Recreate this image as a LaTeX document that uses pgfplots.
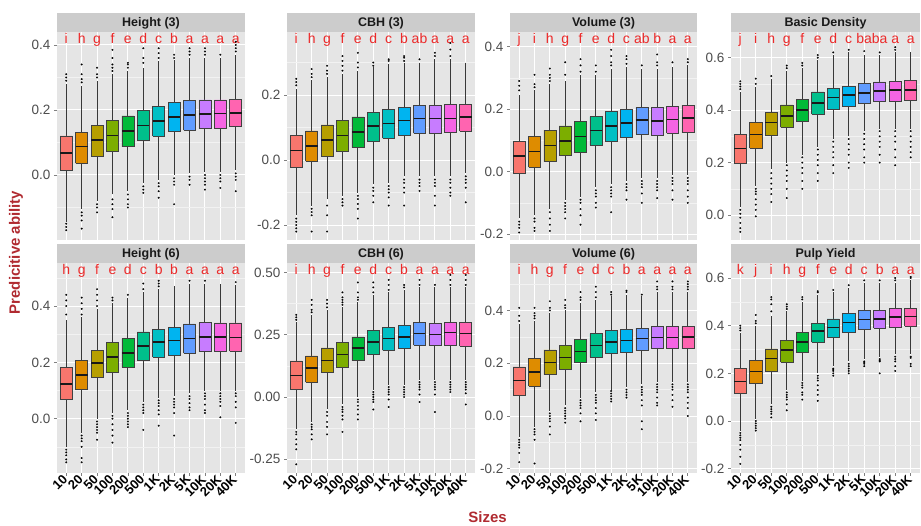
\documentclass[border=0pt]{standalone}
\usepackage{fontspec}
\setmainfont{Liberation Sans}
\usepackage{pgfplots}
\pgfplotsset{compat=1.18}
\definecolor{c1}{HTML}{F8766D}
\definecolor{c2}{HTML}{DE8C00}
\definecolor{c3}{HTML}{B79F00}
\definecolor{c4}{HTML}{7CAE00}
\definecolor{c5}{HTML}{00BA38}
\definecolor{c6}{HTML}{00C08B}
\definecolor{c7}{HTML}{00BFC4}
\definecolor{c8}{HTML}{00B4F0}
\definecolor{c9}{HTML}{619CFF}
\definecolor{c10}{HTML}{C77CFF}
\definecolor{c11}{HTML}{F564E3}
\definecolor{c12}{HTML}{FF64B0}
\definecolor{bg}{HTML}{E5E5E5}
\definecolor{stripgray}{HTML}{CCCCCC}
\definecolor{letred}{HTML}{EC2A2A}
\definecolor{titred}{HTML}{B02A30}
\definecolor{ticklab}{HTML}{4D4D4D}

% box: pos, lower whisker, lower quartile, median, upper quartile, upper whisker, outliers
\newcommand{\B}[7]{%
\addplot[draw=black!78, line width=0.9pt] coordinates {(#1,#2) (#1,#3)};
\addplot[draw=black!78, line width=0.9pt] coordinates {(#1,#5) (#1,#6)};
\addplot[fill=c#1, draw=black!75, line width=0.55pt] table[row sep=\\, x expr=\thisrow{x}+#1] {x y\\ -0.39 #3\\ 0.39 #3\\ 0.39 #5\\ -0.39 #5\\ -0.39 #3\\};
\addplot[draw=black!90, line width=1.5pt] table[row sep=\\, x expr=\thisrow{x}+#1] {x y\\ -0.385 #4\\ 0.385 #4\\};
\addplot[only marks, mark=*, mark size=0.85pt, mark options={fill=black, draw=black, line width=0.2pt}] table[row sep=\\, x expr=#1, y index=0] {d\\ #7};}
\newcommand{\Lt}[2]{\node[font=\fontsize{14}{14}\selectfont, text=letred, anchor=base, inner sep=0pt, yshift=-11.8pt] at ({axis cs:#1,0}|-{rel axis cs:0,1}) {#2};}
\newcommand{\Strip}[1]{\fill[stripgray] (rel axis cs:0,1) rectangle ([yshift=19pt]rel axis cs:1,1);
\node[font=\bfseries\fontsize{12.5}{13}\selectfont, text=black!90, anchor=base, inner sep=0pt] at ([yshift=5.2pt]rel axis cs:0.5,1) {#1};}

\pgfplotsset{
 panel/.style={
  scale only axis, xmin=0.4, xmax=12.6, xtick={1,...,12},
  axis background/.style={fill=bg},
  axis line style={draw=none},
  xmajorgrids, ymajorgrids, yminorgrids,
  major grid style={white, line width=1pt},
  minor grid style={gray!10, line width=0.55pt},
  tick align=outside, major tick length=3pt, minor tick length=0pt,
  tick style={black!50, line width=0.7pt},
  xtick pos=left, ytick pos=left,
  yticklabel style={font=\fontsize{13.5}{14}\selectfont, text=ticklab},
  clip=false,
 },
 toprow/.style={height=208pt, xticklabels={}, xtick style={draw=none}},
 botrow/.style={height=210pt, xticklabels={10,20,50,100,200,500,1K,2K,5K,10K,20K,40K},
   xticklabel style={rotate=45, anchor=east, font=\bfseries\fontsize{13}{13}\selectfont, text=black, inner sep=1.5pt}},
}

\begin{document}
\begin{tikzpicture}
\path[use as bounding box] (0,0) rectangle (921pt,526pt);

%%%%% Height (3)
\begin{axis}[panel, toprow, at={(57pt,286pt)}, anchor=south west, width=188pt,
 ymin=-0.2, ymax=0.44, ytick={0,0.2,0.4}, yticklabels={0.0,0.2,0.4}, minor ytick={-0.1,0.1,0.3}]
\Strip{Height (3)}
\B{1}{-0.145}{0.013}{0.067}{0.12}{0.28}{0.29\\0.30\\0.31\\-0.15\\-0.16\\-0.17\\}
\B{2}{-0.105}{0.036}{0.087}{0.132}{0.275}{0.285\\0.295\\0.31\\0.34\\-0.115\\-0.125\\-0.14\\-0.165\\}
\B{3}{-0.08}{0.059}{0.108}{0.152}{0.29}{0.30\\0.31\\0.33\\-0.09\\-0.10\\-0.115\\}
\B{4}{-0.06}{0.074}{0.121}{0.169}{0.31}{0.32\\0.33\\0.34\\0.36\\0.385\\-0.075\\-0.09\\-0.105\\-0.13\\}
\B{5}{-0.05}{0.087}{0.136}{0.182}{0.32}{0.33\\0.34\\0.345\\-0.06\\-0.075\\-0.09\\-0.10\\}
\B{6}{-0.025}{0.108}{0.152}{0.198}{0.33}{0.345\\0.36\\0.39\\-0.035\\-0.045\\-0.055\\}
\B{7}{-0.015}{0.12}{0.166}{0.211}{0.35}{0.36\\0.375\\0.39\\-0.025\\-0.035\\-0.05\\-0.07\\}
\B{8}{0.0}{0.133}{0.179}{0.223}{0.355}{0.36\\0.37\\-0.01\\-0.02\\-0.03\\-0.09\\}
\B{9}{0.005}{0.138}{0.185}{0.229}{0.36}{0.37\\0.38\\0.39\\-0.005\\-0.015\\-0.03\\}
\B{10}{0.01}{0.144}{0.188}{0.231}{0.36}{0.37\\0.38\\0.39\\0.0\\-0.01\\-0.02\\-0.03\\-0.045\\}
\B{11}{0.01}{0.144}{0.189}{0.231}{0.36}{0.37\\0.0\\-0.01\\-0.02\\-0.04\\}
\B{12}{0.015}{0.149}{0.19}{0.233}{0.37}{0.38\\0.39\\0.40\\0.41\\0.005\\-0.005\\-0.015\\-0.05\\}
\Lt{1}{i}\Lt{2}{h}\Lt{3}{g}\Lt{4}{f}\Lt{5}{e}\Lt{6}{d}\Lt{7}{c}\Lt{8}{b}\Lt{9}{a}\Lt{10}{a}\Lt{11}{a}\Lt{12}{a}
\end{axis}

%%%%% CBH (3)
\begin{axis}[panel, toprow, at={(287pt,286pt)}, anchor=south west, width=188pt,
 ymin=-0.246, ymax=0.394, ytick={-0.2,0,0.2}, yticklabels={-0.2,0.0,0.2}, minor ytick={-0.1,0.1,0.3}]
\Strip{CBH (3)}
\B{1}{-0.17}{-0.021}{0.029}{0.077}{0.22}{0.23\\0.24\\0.25\\-0.18\\-0.19\\-0.20\\-0.21\\-0.22\\}
\B{2}{-0.14}{-0.003}{0.043}{0.09}{0.245}{0.255\\0.265\\0.28\\-0.15\\-0.16\\-0.17\\-0.22\\}
\B{3}{-0.12}{0.012}{0.062}{0.108}{0.255}{0.265\\0.275\\0.29\\-0.14\\-0.17\\-0.22\\}
\B{4}{-0.11}{0.026}{0.075}{0.123}{0.265}{0.275\\0.29\\0.305\\0.32\\-0.12\\-0.13\\-0.14\\}
\B{5}{-0.10}{0.039}{0.087}{0.133}{0.275}{0.285\\0.30\\0.33\\-0.11\\-0.12\\-0.135\\-0.15\\-0.18\\}
\B{6}{-0.075}{0.058}{0.105}{0.147}{0.285}{0.29\\0.30\\-0.085\\-0.095\\-0.11\\-0.13\\}
\B{7}{-0.07}{0.067}{0.113}{0.157}{0.295}{0.305\\0.31\\-0.08\\-0.09\\-0.10\\-0.115\\-0.14\\}
\B{8}{-0.05}{0.075}{0.121}{0.162}{0.30}{0.305\\0.315\\0.32\\-0.06\\-0.07\\-0.085\\-0.10\\-0.14\\}
\B{9}{-0.05}{0.082}{0.128}{0.167}{0.30}{0.31\\-0.06\\-0.07\\-0.08\\-0.095\\}
\B{10}{-0.05}{0.082}{0.128}{0.169}{0.31}{0.32\\0.33\\-0.06\\-0.07\\-0.08\\-0.11\\-0.14\\}
\B{11}{-0.05}{0.084}{0.128}{0.172}{0.31}{0.32\\0.34\\0.36\\-0.06\\-0.07\\-0.085\\-0.10\\-0.11\\}
\B{12}{-0.04}{0.089}{0.133}{0.172}{0.30}{-0.05\\-0.06\\-0.07\\-0.085\\-0.13\\}
\Lt{1}{i}\Lt{2}{h}\Lt{3}{g}\Lt{4}{f}\Lt{5}{e}\Lt{6}{d}\Lt{7}{c}\Lt{8}{b}\Lt{9}{ab}\Lt{10}{a}\Lt{11}{a}\Lt{12}{a}
\end{axis}

%%%%% Volume (3)
\begin{axis}[panel, toprow, at={(510pt,286pt)}, anchor=south west, width=187pt,
 ymin=-0.219, ymax=0.447, ytick={-0.2,0,0.2,0.4}, yticklabels={-0.2,0.0,0.2,0.4}, minor ytick={-0.1,0.1,0.3}]
\Strip{Volume (3)}
\B{1}{-0.15}{-0.005}{0.05}{0.096}{0.245}{0.26\\0.275\\0.29\\-0.16\\-0.17\\-0.18\\-0.195\\}
\B{2}{-0.14}{0.014}{0.064}{0.112}{0.26}{0.27\\0.28\\0.31\\-0.15\\-0.16\\-0.18\\-0.19\\}
\B{3}{-0.12}{0.032}{0.083}{0.133}{0.28}{0.29\\0.30\\0.31\\0.33\\-0.13\\-0.15\\-0.17\\-0.19\\}
\B{4}{-0.09}{0.051}{0.098}{0.146}{0.29}{0.31\\0.35\\-0.10\\-0.11\\-0.12\\-0.13\\-0.15\\}
\B{5}{-0.08}{0.061}{0.112}{0.16}{0.31}{0.32\\0.34\\0.36\\-0.09\\-0.10\\-0.12\\-0.14\\-0.17\\}
\B{6}{-0.05}{0.085}{0.131}{0.176}{0.31}{0.32\\0.34\\-0.06\\-0.07\\-0.08\\-0.10\\-0.115\\}
\B{7}{-0.04}{0.098}{0.146}{0.192}{0.33}{0.34\\0.35\\0.37\\0.39\\-0.05\\-0.06\\-0.07\\-0.08\\-0.13\\}
\B{8}{-0.03}{0.109}{0.155}{0.20}{0.335}{0.345\\0.36\\0.37\\-0.04\\-0.05\\-0.06\\-0.09\\}
\B{9}{-0.02}{0.121}{0.165}{0.206}{0.33}{0.34\\-0.03\\-0.04\\-0.05\\-0.07\\-0.10\\}
\B{10}{-0.02}{0.115}{0.162}{0.206}{0.33}{0.34\\0.35\\0.375\\-0.03\\-0.04\\-0.05\\-0.06\\-0.085\\}
\B{11}{-0.01}{0.123}{0.167}{0.21}{0.335}{0.35\\-0.02\\-0.03\\-0.04\\-0.06\\-0.09\\}
\B{12}{-0.01}{0.125}{0.171}{0.213}{0.34}{0.35\\0.36\\-0.02\\-0.03\\-0.04\\-0.06\\-0.08\\-0.10\\}
\Lt{1}{j}\Lt{2}{i}\Lt{3}{h}\Lt{4}{g}\Lt{5}{f}\Lt{6}{e}\Lt{7}{d}\Lt{8}{c}\Lt{9}{ab}\Lt{10}{b}\Lt{11}{a}\Lt{12}{a}
\end{axis}

%%%%% Basic Density
\begin{axis}[panel, toprow, at={(731pt,286pt)}, anchor=south west, width=189pt,
 ymin=-0.095, ymax=0.698, ytick={0,0.2,0.4,0.6}, yticklabels={0.0,0.2,0.4,0.6}, minor ytick={0.1,0.3,0.5}]
\Strip{Basic Density}
\B{1}{0.03}{0.197}{0.254}{0.309}{0.47}{0.48\\0.49\\0.50\\0.51\\0.02\\0.005\\-0.01\\-0.03\\-0.05\\-0.064\\}
\B{2}{0.11}{0.254}{0.308}{0.352}{0.49}{0.50\\0.52\\0.10\\0.09\\0.08\\0.06\\0.04\\0.02\\-0.005\\}
\B{3}{0.175}{0.305}{0.353}{0.392}{0.52}{0.53\\0.16\\0.14\\0.12\\0.10\\0.08\\0.05\\}
\B{4}{0.20}{0.334}{0.378}{0.42}{0.55}{0.56\\0.57\\0.19\\0.17\\0.15\\0.13\\0.10\\0.065\\}
\B{5}{0.23}{0.356}{0.40}{0.441}{0.56}{0.57\\0.58\\0.22\\0.20\\0.18\\0.16\\0.13\\0.10\\}
\B{6}{0.26}{0.385}{0.428}{0.47}{0.59}{0.60\\0.61\\0.25\\0.23\\0.21\\0.19\\0.16\\0.13\\}
\B{7}{0.29}{0.403}{0.449}{0.483}{0.61}{0.62\\0.28\\0.26\\0.24\\0.22\\0.19\\0.16\\}
\B{8}{0.30}{0.413}{0.458}{0.492}{0.62}{0.63\\0.29\\0.27\\0.25\\0.23\\0.20\\0.18\\}
\B{9}{0.32}{0.426}{0.466}{0.502}{0.61}{0.625\\0.31\\0.29\\0.27\\0.25\\0.22\\0.20\\}
\B{10}{0.33}{0.432}{0.473}{0.508}{0.61}{0.62\\0.32\\0.30\\0.28\\0.26\\0.23\\0.20\\}
\B{11}{0.33}{0.435}{0.477}{0.511}{0.62}{0.63\\0.64\\0.32\\0.30\\0.28\\0.25\\0.22\\0.19\\}
\B{12}{0.33}{0.436}{0.477}{0.512}{0.62}{0.32\\0.30\\0.28\\0.26\\0.24\\0.22\\}
\Lt{1}{j}\Lt{2}{i}\Lt{3}{h}\Lt{4}{g}\Lt{5}{f}\Lt{6}{e}\Lt{7}{d}\Lt{8}{c}\Lt{9}{ba}\Lt{10}{ba}\Lt{11}{a}\Lt{12}{a}
\end{axis}

%%%%% Height (6)
\begin{axis}[panel, botrow, at={(57pt,53pt)}, anchor=south west, width=188pt,
 ymin=-0.193, ymax=0.553, ytick={0,0.2,0.4}, yticklabels={0.0,0.2,0.4}, minor ytick={-0.1,0.1,0.3,0.5}]
\Strip{Height (6)}
\B{1}{-0.10}{0.069}{0.124}{0.183}{0.35}{0.37\\0.40\\0.42\\0.44\\-0.11\\-0.12\\-0.13\\-0.145\\-0.155\\}
\B{2}{-0.05}{0.103}{0.156}{0.207}{0.36}{0.37\\0.39\\0.41\\0.43\\-0.06\\-0.07\\-0.08\\-0.10\\-0.14\\-0.155\\}
\B{3}{0.0}{0.146}{0.198}{0.243}{0.39}{0.40\\0.42\\0.44\\0.46\\-0.01\\-0.02\\-0.03\\-0.04\\-0.05\\-0.075\\}
\B{4}{0.02}{0.166}{0.219}{0.27}{0.41}{0.42\\0.43\\0.01\\0.0\\-0.02\\-0.04\\-0.06\\-0.085\\}
\B{5}{0.03}{0.183}{0.233}{0.284}{0.43}{0.44\\0.02\\0.01\\0.0\\-0.01\\-0.02\\-0.03\\}
\B{6}{0.06}{0.207}{0.258}{0.308}{0.45}{0.46\\0.48\\0.05\\0.04\\0.03\\0.02\\-0.04\\}
\B{7}{0.075}{0.219}{0.272}{0.317}{0.46}{0.47\\0.48\\0.49\\0.065\\0.055\\0.045\\0.03\\0.015\\-0.025\\}
\B{8}{0.08}{0.225}{0.277}{0.325}{0.47}{0.07\\0.06\\0.05\\0.04\\0.02\\-0.06\\}
\B{9}{0.09}{0.233}{0.284}{0.337}{0.48}{0.49\\0.08\\0.07\\0.055\\0.04\\0.03\\}
\B{10}{0.10}{0.239}{0.29}{0.341}{0.48}{0.49\\0.09\\0.08\\0.07\\0.05\\0.03\\0.02\\}
\B{11}{0.10}{0.239}{0.29}{0.34}{0.48}{0.09\\0.08\\0.07\\0.06\\0.045\\0.005\\}
\B{12}{0.10}{0.239}{0.288}{0.34}{0.475}{0.485\\0.09\\0.08\\0.06\\0.04\\-0.015\\}
\Lt{1}{h}\Lt{2}{g}\Lt{3}{f}\Lt{4}{e}\Lt{5}{d}\Lt{6}{c}\Lt{7}{b}\Lt{8}{b}\Lt{9}{a}\Lt{10}{a}\Lt{11}{a}\Lt{12}{a}
\end{axis}

%%%%% CBH (6)
\begin{axis}[panel, botrow, at={(287pt,53pt)}, anchor=south west, width=188pt,
 ymin=-0.305, ymax=0.538, ytick={-0.25,0,0.25,0.5}, yticklabels={-0.25,0.00,0.25,0.50}, minor ytick={-0.125,0.125,0.375}]
\Strip{CBH (6)}
\B{1}{-0.13}{0.033}{0.087}{0.145}{0.30}{0.31\\0.32\\0.33\\-0.14\\-0.15\\-0.17\\-0.19\\-0.21\\-0.27\\}
\B{2}{-0.10}{0.06}{0.117}{0.165}{0.33}{0.34\\0.35\\0.37\\0.39\\-0.11\\-0.12\\-0.13\\-0.15\\-0.17\\}
\B{3}{-0.05}{0.10}{0.147}{0.197}{0.35}{0.36\\0.375\\0.39\\-0.06\\-0.075\\-0.10\\-0.12\\-0.15\\}
\B{4}{-0.03}{0.121}{0.17}{0.218}{0.36}{0.37\\0.38\\0.39\\0.40\\0.42\\-0.04\\-0.05\\-0.06\\-0.075\\-0.09\\-0.14\\}
\B{5}{0.0}{0.147}{0.197}{0.241}{0.38}{0.39\\0.40\\0.42\\0.46\\-0.01\\-0.02\\-0.035\\-0.05\\-0.07\\-0.09\\}
\B{6}{0.03}{0.17}{0.221}{0.268}{0.41}{0.42\\0.44\\0.46\\0.02\\0.01\\0.0\\-0.01\\-0.02\\-0.05\\}
\B{7}{0.05}{0.187}{0.234}{0.279}{0.42}{0.43\\0.45\\0.47\\0.04\\0.03\\0.02\\0.01\\-0.01\\-0.04\\}
\B{8}{0.05}{0.194}{0.241}{0.288}{0.43}{0.44\\0.45\\0.04\\0.03\\0.02\\0.01\\0.0\\}
\B{9}{0.07}{0.208}{0.254}{0.299}{0.44}{0.45\\0.47\\0.06\\0.05\\0.04\\0.03\\0.01\\-0.02\\}
\B{10}{0.07}{0.208}{0.25}{0.297}{0.44}{0.45\\0.06\\0.05\\0.04\\0.03\\0.01\\-0.06\\}
\B{11}{0.07}{0.208}{0.258}{0.301}{0.44}{0.45\\0.47\\0.49\\0.06\\0.05\\0.04\\0.03\\0.02\\}
\B{12}{0.07}{0.205}{0.254}{0.299}{0.44}{0.45\\0.47\\0.49\\0.06\\0.05\\0.04\\0.03\\0.015\\-0.03\\}
\Lt{1}{i}\Lt{2}{h}\Lt{3}{g}\Lt{4}{f}\Lt{5}{e}\Lt{6}{d}\Lt{7}{c}\Lt{8}{b}\Lt{9}{a}\Lt{10}{a}\Lt{11}{a}\Lt{12}{a}
\end{axis}

%%%%% Volume (6)
\begin{axis}[panel, botrow, at={(510pt,53pt)}, anchor=south west, width=187pt,
 ymin=-0.216, ymax=0.58, ytick={-0.2,0,0.2,0.4}, yticklabels={-0.2,0.0,0.2,0.4}, minor ytick={-0.1,0.1,0.3,0.5}]
\Strip{Volume (6)}
\B{1}{-0.08}{0.078}{0.135}{0.186}{0.35}{0.36\\0.38\\0.41\\-0.09\\-0.10\\-0.11\\-0.12\\-0.14\\-0.175\\}
\B{2}{-0.04}{0.114}{0.167}{0.217}{0.36}{0.37\\0.38\\0.39\\0.41\\-0.05\\-0.06\\-0.07\\-0.09\\-0.18\\}
\B{3}{0.02}{0.157}{0.202}{0.251}{0.39}{0.40\\0.41\\0.435\\0.01\\0.0\\-0.01\\-0.02\\-0.04\\-0.07\\}
\B{4}{0.04}{0.176}{0.221}{0.268}{0.40}{0.41\\0.42\\0.44\\0.03\\0.02\\0.01\\0.0\\-0.01\\-0.025\\}
\B{5}{0.07}{0.202}{0.245}{0.291}{0.43}{0.44\\0.45\\0.47\\0.06\\0.05\\0.04\\0.03\\0.01\\-0.02\\}
\B{6}{0.09}{0.224}{0.268}{0.312}{0.44}{0.45\\0.47\\0.49\\0.08\\0.07\\0.06\\0.05\\0.03\\0.01\\-0.015\\}
\B{7}{0.10}{0.236}{0.28}{0.325}{0.455}{0.46\\0.47\\0.095\\0.085\\0.075\\0.065\\0.055\\}
\B{8}{0.11}{0.24}{0.287}{0.328}{0.46}{0.47\\0.475\\0.10\\0.09\\0.08\\0.07\\}
\B{9}{0.12}{0.249}{0.293}{0.333}{0.455}{0.46\\0.11\\0.10\\0.09\\0.08\\0.06\\0.04\\-0.02\\-0.05\\}
\B{10}{0.13}{0.255}{0.297}{0.341}{0.47}{0.48\\0.49\\0.51\\0.12\\0.11\\0.10\\0.09\\0.07\\0.05\\0.04\\}
\B{11}{0.13}{0.255}{0.297}{0.341}{0.47}{0.48\\0.49\\0.51\\0.12\\0.11\\0.10\\0.08\\0.06\\0.035\\}
\B{12}{0.13}{0.255}{0.299}{0.341}{0.47}{0.48\\0.49\\0.50\\0.51\\0.12\\0.11\\0.10\\0.09\\0.07\\0.05\\0.03\\0.0\\}
\Lt{1}{i}\Lt{2}{h}\Lt{3}{g}\Lt{4}{f}\Lt{5}{e}\Lt{6}{d}\Lt{7}{c}\Lt{8}{b}\Lt{9}{a}\Lt{10}{a}\Lt{11}{a}\Lt{12}{a}
\end{axis}

%%%%% Pulp Yield
\begin{axis}[panel, botrow, at={(731pt,53pt)}, anchor=south west, width=189pt,
 ymin=-0.218, ymax=0.663, ytick={-0.2,0,0.2,0.4,0.6}, yticklabels={-0.2,0.0,0.2,0.4,0.6}, minor ytick={-0.1,0.1,0.3,0.5}]
\Strip{Pulp Yield}
\B{1}{-0.04}{0.115}{0.166}{0.22}{0.37}{0.38\\0.39\\0.40\\-0.05\\-0.06\\-0.07\\-0.08\\-0.10\\-0.12\\-0.15\\-0.18\\}
\B{2}{0.01}{0.157}{0.208}{0.255}{0.40}{0.41\\0.42\\0.445\\0.0\\-0.01\\-0.02\\-0.03\\-0.04\\}
\B{3}{0.07}{0.21}{0.262}{0.303}{0.44}{0.46\\0.49\\0.51\\0.52\\0.06\\0.05\\0.04\\0.03\\0.015\\}
\B{4}{0.13}{0.248}{0.299}{0.337}{0.46}{0.47\\0.48\\0.49\\0.12\\0.11\\0.10\\0.09\\0.07\\0.045\\}
\B{5}{0.17}{0.29}{0.331}{0.373}{0.50}{0.51\\0.52\\0.16\\0.15\\0.14\\0.12\\0.11\\0.09\\}
\B{6}{0.20}{0.331}{0.378}{0.411}{0.53}{0.54\\0.545\\0.19\\0.18\\0.17\\0.15\\0.13\\0.11\\0.085\\}
\B{7}{0.23}{0.352}{0.393}{0.429}{0.54}{0.55\\0.22\\0.215\\0.21\\0.20\\0.19\\}
\B{8}{0.25}{0.371}{0.413}{0.45}{0.56}{0.57\\0.24\\0.23\\0.22\\0.21\\0.20\\}
\B{9}{0.26}{0.385}{0.425}{0.464}{0.58}{0.59\\0.25\\0.245\\0.24\\0.23\\}
\B{10}{0.27}{0.39}{0.429}{0.464}{0.58}{0.59\\0.26\\0.255\\0.25\\0.20\\}
\B{11}{0.28}{0.394}{0.436}{0.471}{0.58}{0.59\\0.60\\0.27\\0.26\\0.25\\0.23\\0.21\\}
\B{12}{0.28}{0.399}{0.439}{0.474}{0.59}{0.60\\0.605\\0.27\\0.265\\0.24\\0.23\\}
\Lt{1}{k}\Lt{2}{j}\Lt{3}{i}\Lt{4}{h}\Lt{5}{g}\Lt{6}{f}\Lt{7}{e}\Lt{8}{d}\Lt{9}{c}\Lt{10}{b}\Lt{11}{a}\Lt{12}{a}
\end{axis}

\node[rotate=90, font=\bfseries\fontsize{15}{16}\selectfont, text=titred] at (16pt,273.5pt) {Predicitive ability};
\node[font=\bfseries\fontsize{15}{16}\selectfont, text=titred] at (487.5pt,9.3pt) {Sizes};
\end{tikzpicture}
\end{document}
